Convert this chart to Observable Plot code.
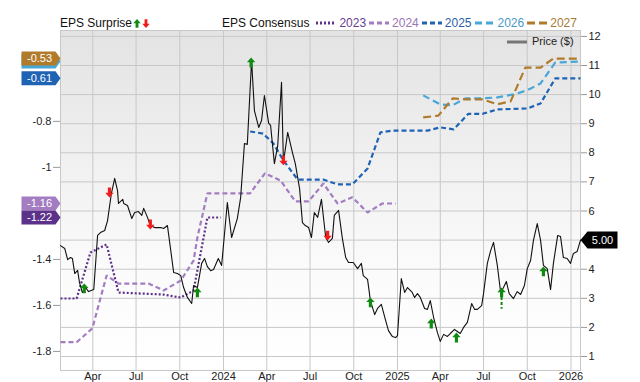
<!DOCTYPE html>
<html><head><meta charset="utf-8">
<script src="https://cdn.jsdelivr.net/npm/d3@7"></script>
<script src="https://cdn.jsdelivr.net/npm/@observablehq/plot@0.6"></script>
<style>
body{margin:0;background:#fff;font-family:"Liberation Sans",Arial,sans-serif;}
#wrap{position:relative;width:640px;height:382px;overflow:hidden;}
#bg{position:absolute;left:60px;top:30px;width:520px;height:340px;background:linear-gradient(to bottom,#e3e3e3 0%,#efefef 35%,#fbfbfb 70%,#ffffff 100%);}
.layer{position:absolute;left:0;top:30px;}
#legend{position:absolute;top:16px;left:0;width:640px;height:14px;font-size:12px;line-height:14px;color:#111;}
#legend .item{position:absolute;top:0;display:flex;align-items:center;white-space:nowrap;}
#pricelegend{position:absolute;top:35px;left:507px;font-size:11px;line-height:13px;color:#222;display:flex;align-items:center;}
.layer svg [aria-label="y-axis tick"] path,.layer svg [aria-label="y-axis"] line{stroke:#999;}
</style></head>
<body>
<div id="wrap">
  <div id="bg"></div>
  <div class="layer" id="l1"></div>
  <div class="layer" id="l2"></div>
  <div class="layer" id="l3"></div>
  <div id="legend"></div>
  <div id="pricelegend"><svg width="20" height="4"><line x1="0" x2="20" y1="2" y2="2" stroke="#777" stroke-width="3"/></svg><span style="margin-left:5px">Price ($)</span></div>
</div>
<script>
// ---------- data ----------
const xTicks = ["2023-04-01","2023-07-01","2023-10-01","2024-01-01","2024-04-01","2024-07-01","2024-10-01","2025-01-01","2025-04-01","2025-07-01","2025-10-01","2026-01-01"];
const xTickLabels = ["Apr","Jul","Oct","2024","Apr","Jul","Oct","2025","Apr","Jul","Oct","2026"];
const priceGrid = [1,2,3,4,5,6,7,8,9,10,11,12];
const priceTickLabels = [1,2,3,4,6,7,8,9,10,11,12];
const epsTicks = [-1.8,-1.6,-1.4,-1,-0.8];

const seriesNames = ["2023","2024","2025","2026","2027"];
const eps2023 = [["2023-01-23",-1.57],["2023-02-26",-1.57],["2023-03-27",-1.37],["2023-04-30",-1.335],["2023-05-25",-1.544],["2023-08-28",-1.553],["2023-10-03",-1.566],["2023-10-30",-1.535],["2023-11-28",-1.218],["2023-12-26",-1.218]];
const eps2024 = [["2023-01-23",-1.76],["2023-02-26",-1.76],["2023-03-31",-1.70],["2023-04-30",-1.47],["2023-05-25",-1.505],["2023-07-27",-1.505],["2023-08-28",-1.535],["2023-10-03",-1.492],["2023-10-30",-1.405],["2023-11-07",-1.305],["2023-11-28",-1.113],["2024-02-26",-1.113],["2024-03-28",-1.026],["2024-04-30",-1.057],["2024-05-31",-1.148],["2024-06-28",-1.148],["2024-07-29",-1.07],["2024-08-28",-1.157],["2024-09-28",-1.13],["2024-10-30",-1.196],["2024-11-30",-1.157],["2024-12-28",-1.157]];
const eps2025 = [["2024-02-26",-0.844],["2024-03-24",-0.853],["2024-04-15",-0.896],["2024-05-06",-0.97],["2024-06-05",-1.053],["2024-07-29",-1.053],["2024-08-28",-1.074],["2024-09-28",-1.074],["2024-10-30",-1.005],["2024-11-26",-0.848],["2024-12-23",-0.84],["2025-03-05",-0.84],["2025-04-01",-0.826],["2025-04-29",-0.835],["2025-05-30",-0.767],["2025-06-29",-0.767],["2025-07-30",-0.748],["2025-10-01",-0.744],["2025-10-29",-0.722],["2025-11-29",-0.613],["2026-01-21",-0.613]];
const eps2026 = [["2025-02-24",-0.687],["2025-04-01",-0.726],["2025-04-27",-0.730],["2025-05-24",-0.700],["2025-06-29",-0.700],["2025-07-30",-0.696],["2025-09-02",-0.683],["2025-10-01",-0.665],["2025-10-29",-0.635],["2025-11-29",-0.544],["2026-01-21",-0.540]];
const eps2027 = [["2025-02-24",-0.783],["2025-03-28",-0.775],["2025-04-27",-0.700],["2025-05-24",-0.704],["2025-06-29",-0.704],["2025-07-30",-0.726],["2025-08-27",-0.713],["2025-09-27",-0.566],["2025-10-29",-0.566],["2025-11-25",-0.527],["2026-01-21",-0.527]];

const price = [["2023-01-23",4.81],["2023-02-01",4.71],["2023-02-07",4.33],["2023-02-13",4.40],["2023-02-17",4.37],["2023-02-22",3.85],["2023-02-28",3.96],["2023-03-04",3.54],["2023-03-10",3.20],["2023-03-17",3.37],["2023-03-23",3.23],["2023-04-03",3.30],["2023-04-11",5.16],["2023-04-17",5.26],["2023-04-26",5.33],["2023-05-02",5.67],["2023-05-10",6.60],["2023-05-17",7.12],["2023-05-23",6.70],["2023-05-25",6.26],["2023-06-03",6.40],["2023-06-05",6.26],["2023-06-13",6.19],["2023-06-22",5.74],["2023-06-28",5.95],["2023-07-06",5.98],["2023-07-13",5.85],["2023-07-17",6.09],["2023-07-25",5.78],["2023-07-31",5.50],["2023-08-09",5.43],["2023-08-22",5.43],["2023-08-28",5.40],["2023-09-05",5.50],["2023-09-12",4.64],["2023-09-18",3.89],["2023-09-26",3.85],["2023-10-03",3.78],["2023-10-09",3.37],["2023-10-17",3.03],["2023-10-26",2.82],["2023-10-30",3.44],["2023-11-07",3.37],["2023-11-16",4.20],["2023-11-22",4.37],["2023-11-28",4.09],["2023-12-05",3.95],["2023-12-11",3.99],["2023-12-21",4.37],["2023-12-28",4.13],["2024-01-09",6.29],["2024-01-18",5.09],["2024-01-30",5.74],["2024-02-06",6.46],["2024-02-14",8.32],["2024-02-20",8.29],["2024-02-29",11.17],["2024-03-06",9.45],["2024-03-15",8.87],["2024-03-21",9.11],["2024-03-27",9.97],["2024-04-05",9.01],["2024-04-09",8.94],["2024-04-17",7.63],["2024-04-24",8.25],["2024-05-02",10.42],["2024-05-06",7.67],["2024-05-15",8.70],["2024-05-25",8.01],["2024-05-31",7.63],["2024-06-09",6.77],["2024-06-15",5.60],["2024-06-21",5.50],["2024-06-28",5.43],["2024-07-04",5.09],["2024-07-10",5.95],["2024-07-17",5.78],["2024-07-25",6.40],["2024-08-03",5.09],["2024-08-09",4.92],["2024-08-17",5.06],["2024-08-21",5.85],["2024-08-30",6.02],["2024-09-07",5.06],["2024-09-14",4.40],["2024-09-20",4.23],["2024-09-30",4.23],["2024-10-09",4.02],["2024-10-17",4.20],["2024-10-21",3.78],["2024-10-30",3.65],["2024-11-05",2.92],["2024-11-14",2.44],["2024-11-20",2.65],["2024-11-28",2.79],["2024-12-07",2.24],["2024-12-13",1.89],["2024-12-21",1.69],["2024-12-28",1.65],["2025-01-01",1.72],["2025-01-09",3.68],["2025-01-16",3.20],["2025-01-22",3.37],["2025-02-01",3.20],["2025-02-06",3.03],["2025-02-12",3.16],["2025-02-18",3.03],["2025-02-27",2.65],["2025-03-05",2.62],["2025-03-11",2.92],["2025-03-18",2.34],["2025-03-26",1.82],["2025-04-01",1.52],["2025-04-08",1.76],["2025-04-16",1.69],["2025-04-22",1.79],["2025-05-01",1.93],["2025-05-07",1.86],["2025-05-13",1.79],["2025-05-20",2.00],["2025-05-28",2.17],["2025-06-06",2.82],["2025-06-12",2.62],["2025-06-18",2.62],["2025-06-27",2.75],["2025-07-01",3.16],["2025-07-09",4.20],["2025-07-16",4.64],["2025-07-22",4.92],["2025-07-30",4.13],["2025-08-06",3.20],["2025-08-12",3.37],["2025-08-18",3.58],["2025-08-24",3.16],["2025-09-02",2.99],["2025-09-10",3.23],["2025-09-17",3.13],["2025-09-25",3.44],["2025-10-01",4.02],["2025-10-08",4.30],["2025-10-14",4.99],["2025-10-22",5.57],["2025-10-29",4.99],["2025-11-04",4.13],["2025-11-12",4.02],["2025-11-19",3.30],["2025-11-25",4.20],["2025-12-04",5.16],["2025-12-10",5.12],["2025-12-16",4.40],["2025-12-24",4.37],["2025-12-31",4.20],["2026-01-06",4.54],["2026-01-14",4.61],["2026-01-21",5.00]];

const beats = [["2023-03-14",3.34],["2023-11-07",3.20],["2024-02-28",11.10],["2024-11-05",2.86],["2025-03-13",2.13],["2025-05-05",1.65],["2025-08-08",3.20],["2025-11-04",3.92]];
const misses = [["2023-05-06",6.64],["2023-07-31",5.54],["2024-05-06",7.74],["2024-08-07",5.16]];
const beatStems = [["2025-08-08",3.03,2.62]];

// ---------- styles ----------
const styleBy = {
  "2023": {color:"#5c3189", dash:"2 2"},
  "2024": {color:"#a47cc2", dash:"5 3"},
  "2025": {color:"#1f63b5", dash:"5 3"},
  "2026": {color:"#46a7d8", dash:"7 4"},
  "2027": {color:"#b07c2c", dash:"8 4"}
};
const textColorBy = {"2023":"#6a3d95","2024":"#9a74b8","2025":"#2a5fa8","2026":"#4a9ac8","2027":"#a87a35"};
const green = "#108a10", red = "#f01c1c";
const epsSeries = {"2023":eps2023,"2024":eps2024,"2025":eps2025,"2026":eps2026,"2027":eps2027};
const badgeLabelled = {"2023":true,"2024":true,"2025":true,"2026":false,"2027":true}; // 2026 badge sits hidden under 2027

const D = s => new Date(s + "T00:00:00Z");
const xDomain = [D("2023-01-23"), D("2026-01-21")];
const priceDomain = [0.519, 12.203];
const epsDomain = [-1.883, -0.405];
const labelFor = Object.fromEntries(xTicks.map((t,i)=>[t, xTickLabels[i]]));

const font = '"Liberation Sans", Arial, sans-serif';
const common = {width:640, height:352, marginLeft:60, marginRight:60, marginTop:0, marginBottom:12,
  style:{background:"transparent", fontSize:"11px", fontFamily:font, color:"#222", overflow:"visible"}};

// symbols
const upArrow = {draw(c){c.moveTo(0,-5);c.lineTo(4.2,-0.3);c.lineTo(1.6,-0.3);c.lineTo(1.6,4.8);c.lineTo(-1.6,4.8);c.lineTo(-1.6,-0.3);c.lineTo(-4.2,-0.3);c.closePath();}};
const downArrow = {draw(c){c.moveTo(0,5);c.lineTo(4.2,0.3);c.lineTo(1.6,0.3);c.lineTo(1.6,-4.8);c.lineTo(-1.6,-4.8);c.lineTo(-1.6,0.3);c.lineTo(-4.2,0.3);c.closePath();}};
const leftBadge = {draw(c){c.moveTo(0,0);c.lineTo(-5,-7);c.lineTo(-39,-7);c.lineTo(-39,7);c.lineTo(-5,7);c.closePath();}};
const rightBadge = {draw(c){c.moveTo(0,0);c.lineTo(7,-8.5);c.lineTo(37,-8.5);c.lineTo(37,8.5);c.lineTo(7,8.5);c.closePath();}};

// ---------- layer 1: grid, frame, x axis, right axis ----------
const l1 = Plot.plot({...common,
  x:{type:"utc", domain:xDomain, ticks:xTicks.map(D), tickFormat:d=>labelFor[d.toISOString().slice(0,10)], tickSize:0, tickPadding:2, label:null},
  y:{domain:priceDomain, axis:"right", ticks:priceTickLabels, tickSize:6, tickPadding:2, label:null},
  marks:[
    Plot.ruleX(xTicks.map(D), {stroke:"#c8c8c8", strokeWidth:1}),
    Plot.ruleY(priceGrid, {stroke:"#c8c8c8", strokeWidth:1}),
    Plot.frame({stroke:"#c8c8c8"})
  ]});
document.getElementById("l1").appendChild(l1);

// ---------- layer 2: EPS consensus ----------
const epsMarks = [];
for (const name of seriesNames) {
  epsMarks.push(Plot.line(epsSeries[name], {x:d=>D(d[0]), y:d=>d[1], stroke:styleBy[name].color, strokeWidth:2.2, strokeDasharray:styleBy[name].dash, strokeLinecap:"butt", strokeLinejoin:"miter"}));
}
const badgeOrder = ["2026","2027","2025","2024","2023"];
for (const name of badgeOrder) {
  const last = epsSeries[name][epsSeries[name].length-1];
  epsMarks.push(Plot.dot([last], {y:d=>d[1], frameAnchor:"left", symbol:leftBadge, fill:styleBy[name].color, r:5}));
  if (badgeLabelled[name]) epsMarks.push(Plot.text([last], {y:d=>d[1], frameAnchor:"left", dx:-21, textAnchor:"middle", text:d=>d[1].toFixed(2), fill:"#fff", fontSize:11}));
}
const l2 = Plot.plot({...common,
  x:{type:"utc", domain:xDomain, axis:null},
  y:{domain:epsDomain, axis:"left", ticks:epsTicks, tickFormat:d=>String(d), tickSize:7, tickPadding:2, label:null},
  marks:epsMarks});
document.getElementById("l2").appendChild(l2);

// ---------- layer 3: price + surprises ----------
const lastPrice = price[price.length-1];
const l3 = Plot.plot({...common,
  x:{type:"utc", domain:xDomain, axis:null},
  y:{domain:priceDomain, axis:null},
  marks:[
    Plot.line(price, {x:d=>D(d[0]), y:d=>d[1], stroke:"#111", strokeWidth:1.1}),
    Plot.ruleX(beatStems, {x:d=>D(d[0]), y1:d=>d[1], y2:d=>d[2], stroke:green, strokeWidth:2, strokeDasharray:"3 2"}),
    Plot.dot(beats, {x:d=>D(d[0]), y:d=>d[1], symbol:upArrow, fill:green, r:5}),
    Plot.dot(misses, {x:d=>D(d[0]), y:d=>d[1], symbol:downArrow, fill:red, r:5}),
    Plot.dot([lastPrice], {y:d=>d[1], frameAnchor:"right", symbol:rightBadge, fill:"#000", r:5}),
    Plot.text([lastPrice], {y:d=>d[1], frameAnchor:"right", dx:22, textAnchor:"middle", text:d=>d[1].toFixed(2), fill:"#fff", fontSize:11})
  ]});
document.getElementById("l3").appendChild(l3);

// ---------- legend ----------
const legend = document.getElementById("legend");
const arrowSvg = (up,color) => `<svg width="8" height="11" viewBox="-4.5 -5.5 9 11" style="margin-left:1px"><path d="${up?"M0,-5L4.2,-0.3L1.6,-0.3L1.6,4.8L-1.6,4.8L-1.6,-0.3L-4.2,-0.3Z":"M0,5L4.2,0.3L1.6,0.3L1.6,-4.8L-1.6,-4.8L-1.6,0.3L-4.2,0.3Z"}" fill="${color}"/></svg>`;
legend.innerHTML = `<div class="item" style="left:60px">EPS Surprise${arrowSvg(true,green)}${arrowSvg(false,red)}</div>`;
let html = `<div class="item" style="left:222px">EPS Consensus`;
seriesNames.forEach((name,i)=>{
  const s = styleBy[name];
  html += `<svg width="20" height="6" style="margin-left:${i===0?7:3}px"><line x1="0" x2="20" y1="3" y2="3" stroke="${s.color}" stroke-width="3" stroke-dasharray="${s.dash}"/></svg><span style="margin-left:3px;color:${textColorBy[name]}">${name}</span>`;
});
html += `</div>`;
legend.innerHTML += html;
</script>
</body></html>
